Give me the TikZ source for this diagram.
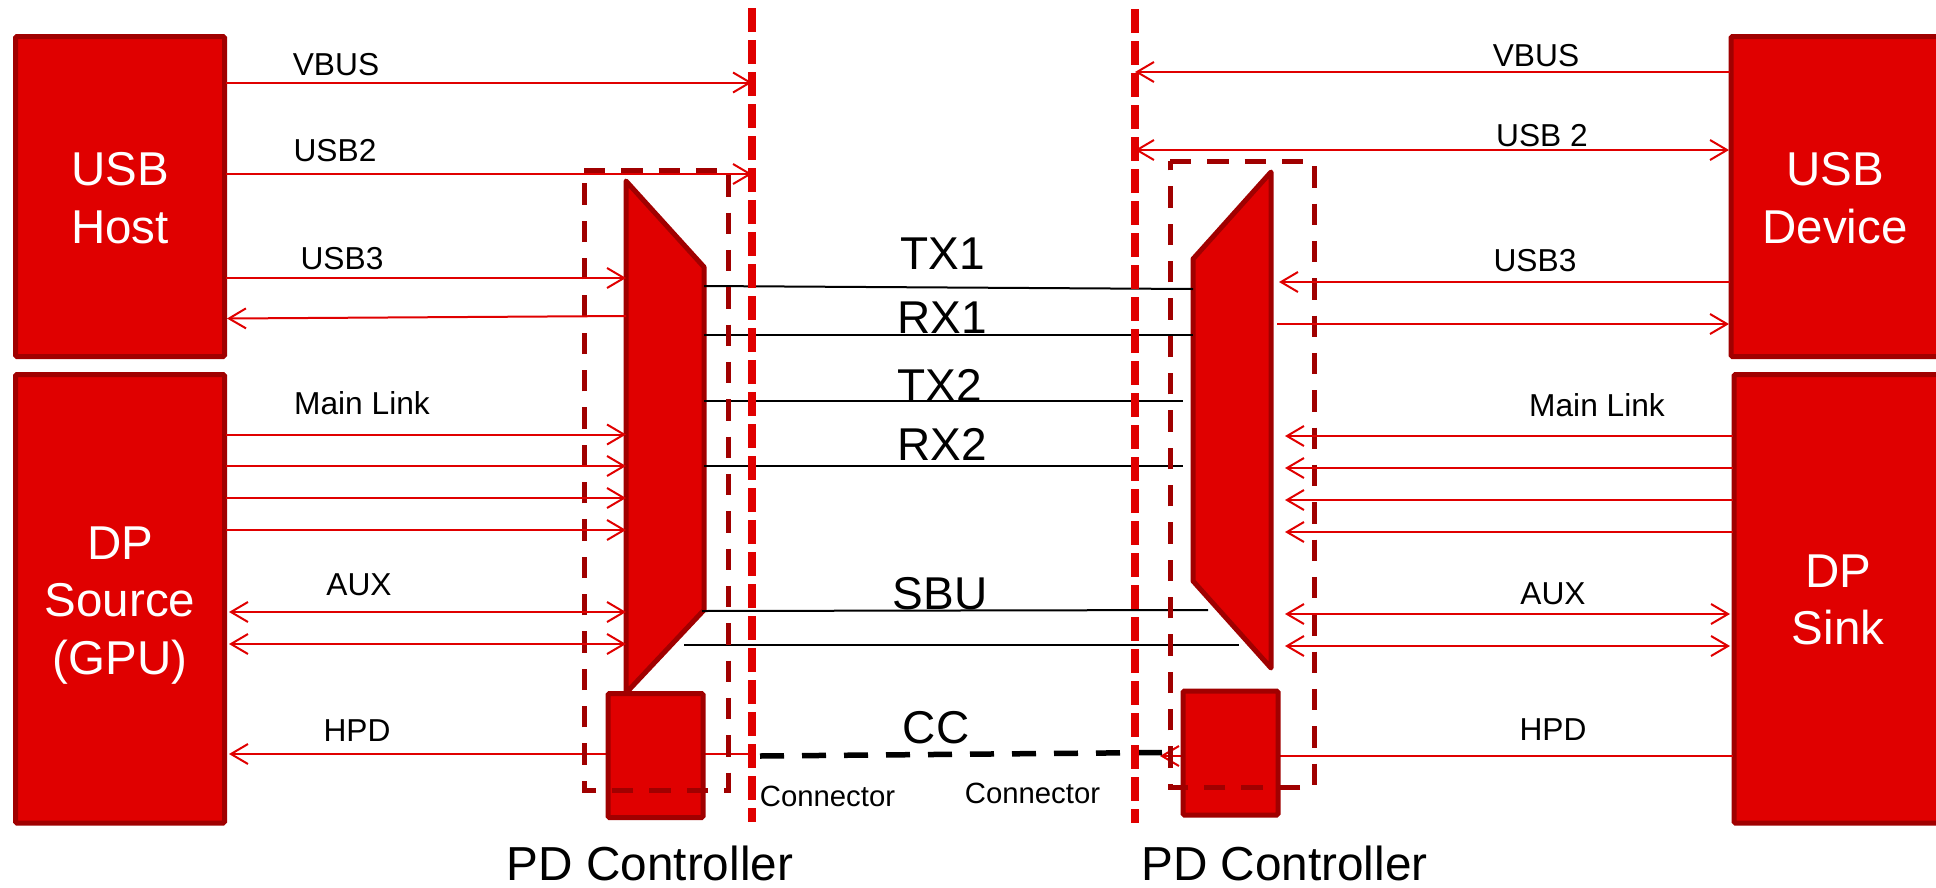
\documentclass[tikz,border=0pt]{standalone}
\usepackage{fontspec}
\setmainfont{Liberation Sans}
\usetikzlibrary{arrows.meta}
\definecolor{rfill}{HTML}{E00000}
\definecolor{rdark}{HTML}{A00000}
\newcommand{\fsz}[1]{\fontsize{#1}{#1}\selectfont}
\tikzset{
  block/.style={draw=rdark,fill=rfill,line width=5pt,rounded corners=1.5pt,inner sep=0pt,outer sep=0pt},
  blocktext/.style={inner sep=0pt,text=white,align=center,font=\fontsize{47.5}{57.3}\selectfont},
  mux/.style={draw=rdark,fill=rfill,line width=5pt,line join=round},
  sig/.style={draw=rfill,line width=2pt},
  barb/.tip={Straight Barb[length=17pt,width=20pt,line width=2pt]},
  sigto/.style={sig,-{barb}},
  sigboth/.style={sig,{barb}-{barb}},
  wire/.style={draw=black,line width=2pt},
  ccwire/.style={draw=black,line width=5.5pt,dash pattern=on 24pt off 18pt},
  conn/.style={draw=rfill,line width=8pt,dash pattern=on 24pt off 8pt},
  pdzone/.style={draw=rdark,line width=5pt,dash pattern=on 21.33pt off 16pt},
  small/.style={inner sep=0pt,font=\fsz{31.7}},
  big/.style={inner sep=0pt,font=\fsz{46}},
  note/.style={inner sep=0pt,font=\fsz{29.3}},
  pdname/.style={inner sep=0pt,font=\fsz{47.7}},
}
\begin{document}
\begin{tikzpicture}[x=1pt,y=-1pt]
\useasboundingbox (0,0) rectangle (1936,887);
% blocks
\node[block,minimum width=209pt,minimum height=320pt] (host) at (120,196.5) {};
\node[block,minimum width=209pt,minimum height=448.5pt] (src) at (120,598.75) {};
\node[block,minimum width=212pt,minimum height=320pt] (dev) at (1837,196.5) {};
\node[block,minimum width=209pt,minimum height=448.5pt] (sink) at (1838.5,598.75) {};
\node[blocktext] (hostt) at (120,198) {USB\\Host};
\node[blocktext] (srct) at (120,605.5) {DP\\Source\\(GPU)};
\node[blocktext] (devt) at (1835,198) {USB\\Device};
\node[blocktext] (sinkt) at (1838,600) {DP\\Sink};
% end points
\coordinate (cL) at (752,8);   \coordinate (cLb) at (752,822);
\coordinate (cR) at (1135,9);  \coordinate (cRb) at (1135,823);
\coordinate (hpdLa) at (752,754);  \coordinate (hpdLb) at (229,754);
\coordinate (hpdRa) at (1733,756); \coordinate (hpdRb) at (1160,756);
% HPD behind the PD controllers
\draw[sigto] (hpdLa) -- (hpdLb);
\draw[sigto] (hpdRa) -- (hpdRb);
% PD controllers
\node[block,minimum width=95pt,minimum height=124pt] (pdL) at (655.5,755.5) {};
\node[block,minimum width=95pt,minimum height=124pt] (pdR) at (1230.5,753) {};
% muxes
\coordinate (mL1) at (626,181); \coordinate (mL2) at (704,267);
\coordinate (mL3) at (704,610); \coordinate (mL4) at (626,693);
\coordinate (mR1) at (1271,172); \coordinate (mR2) at (1193,259);
\coordinate (mR3) at (1193,581); \coordinate (mR4) at (1271,668);
\draw[mux] (mL1) -- (mL2) -- (mL3) -- (mL4) -- cycle;
\draw[mux] (mR1) -- (mR2) -- (mR3) -- (mR4) -- cycle;
% data lines
\coordinate (tx1a) at (704,286);  \coordinate (tx1b) at (1193,289);
\coordinate (rx1a) at (704,335);  \coordinate (rx1b) at (1193,335);
\coordinate (tx2a) at (704,401);  \coordinate (tx2b) at (1183,401);
\coordinate (rx2a) at (704,466);  \coordinate (rx2b) at (1183,466);
\coordinate (sb1a) at (702,611);  \coordinate (sb1b) at (1208,610);
\coordinate (sb2a) at (684,645);  \coordinate (sb2b) at (1239,645);
\coordinate (cca) at (760,756);   \coordinate (ccb) at (1162,752.5);
\draw[wire] (tx1a) -- (tx1b);
\draw[wire] (rx1a) -- (rx1b);
\draw[wire] (tx2a) -- (tx2b);
\draw[wire] (rx2a) -- (rx2b);
\draw[wire] (sb1a) -- (sb1b);
\draw[wire] (sb2a) -- (sb2b);
\draw[ccwire] (cca) -- (ccb);
% connector edges
\draw[conn] (cL) -- (cLb);
\draw[conn] (cR) -- (cRb);
% PD zones
\coordinate (zL1) at (584,170); \coordinate (zL2) at (728,170);
\coordinate (zL3) at (728,790); \coordinate (zL4) at (584,790);
\coordinate (zR1) at (1170,161); \coordinate (zR2) at (1314,161);
\coordinate (zR3) at (1314,787); \coordinate (zR4) at (1170,787);
\draw[pdzone] (zL1) -- (zL2) -- (zL3) -- (zL4) -- cycle;
\draw[pdzone] (zR1) -- (zR2) -- (zR3) -- (zR4) -- cycle;
% left signals
\coordinate (a1) at (226,82.5);  \coordinate (a1e) at (752,82.5);
\coordinate (a2) at (226,174);  \coordinate (a2e) at (752,174);
\coordinate (a3) at (226,278);  \coordinate (a3e) at (626,278);
\coordinate (a4) at (626,316);  \coordinate (a4e) at (227,318.5);
\coordinate (a5) at (226,434.5);\coordinate (a5e) at (626,434.5);
\coordinate (a6) at (226,466);  \coordinate (a6e) at (626,466);
\coordinate (a7) at (226,498);  \coordinate (a7e) at (626,498);
\coordinate (a8) at (226,530);  \coordinate (a8e) at (626,530);
\coordinate (a9) at (229,612);  \coordinate (a9e) at (626,612);
\coordinate (a10) at (229,644); \coordinate (a10e) at (626,644);
\draw[sigto] (a1) -- (a1e);
\draw[sigto] (a2) -- (a2e);
\draw[sigto] (a3) -- (a3e);
\draw[sigto] (a4) -- (a4e);
\draw[sigto] (a5) -- (a5e);
\draw[sigto] (a6) -- (a6e);
\draw[sigto] (a7) -- (a7e);
\draw[sigto] (a8) -- (a8e);
\draw[sigboth] (a9) -- (a9e);
\draw[sigboth] (a10) -- (a10e);
% right signals
\coordinate (b1) at (1730,72);   \coordinate (b1e) at (1135,72);
\coordinate (b2) at (1729,150);  \coordinate (b2e) at (1135,150);
\coordinate (b3) at (1730,282);  \coordinate (b3e) at (1279,282);
\coordinate (b4) at (1277,324);  \coordinate (b4e) at (1729,324);
\coordinate (b5) at (1733,436);  \coordinate (b5e) at (1285,436);
\coordinate (b6) at (1733,468);  \coordinate (b6e) at (1285,468);
\coordinate (b7) at (1733,500);  \coordinate (b7e) at (1285,500);
\coordinate (b8) at (1733,532);  \coordinate (b8e) at (1285,532);
\coordinate (b9) at (1730,614);  \coordinate (b9e) at (1285,614);
\coordinate (b10) at (1730,646); \coordinate (b10e) at (1285,646);
\draw[sigto] (b1) -- (b1e);
\draw[sigboth] (b2) -- (b2e);
\draw[sigto] (b3) -- (b3e);
\draw[sigto] (b4) -- (b4e);
\draw[sigto] (b5) -- (b5e);
\draw[sigto] (b6) -- (b6e);
\draw[sigto] (b7) -- (b7e);
\draw[sigto] (b8) -- (b8e);
\draw[sigboth] (b9) -- (b9e);
\draw[sigboth] (b10) -- (b10e);
% labels
\node[small] (l1) at (336,65) {VBUS};
\node[small] (l2) at (335,151) {USB2};
\node[small] (l3) at (342,259) {USB3};
\node[small] (l4) at (362,403) {Main Link};
\node[small] (l5) at (359,585) {AUX};
\node[small] (l6) at (357,731) {HPD};
\node[small] (r1) at (1536,56) {VBUS};
\node[small] (r2) at (1542,136) {USB 2};
\node[small] (r3) at (1535,261) {USB3};
\node[small] (r4) at (1597,405) {Main Link};
\node[small] (r5) at (1553,594) {AUX};
\node[small] (r6) at (1553,730) {HPD};
\node[big] (t1) at (943,254) {TX1};
\node[big] (t2) at (942,318) {RX1};
\node[big] (t3) at (940,385) {TX2};
\node[big] (t4) at (942,444) {RX2};
\node[big] (t5) at (940,594) {SBU};
\node[big] (t6) at (936,728) {CC};
\node[note] (n1) at (827.5,796) {Connector};
\node[note] (n2) at (1032.5,793) {Connector};
\node[pdname] (p1) at (650,863.5) {PD Controller};
\node[pdname] (p2) at (1284.5,863.5) {PD Controller};
\end{tikzpicture}
\end{document}
